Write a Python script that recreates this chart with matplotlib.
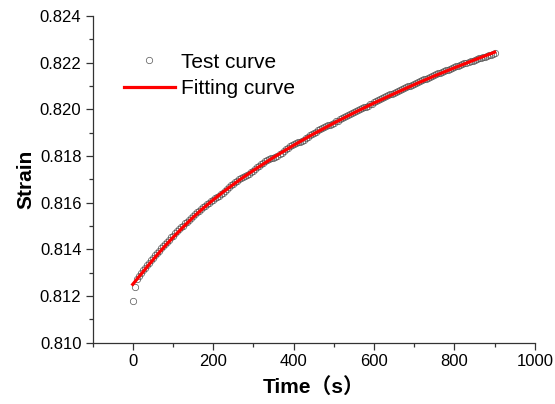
import matplotlib
matplotlib.use("Agg")
import matplotlib.pyplot as plt
from matplotlib.ticker import MultipleLocator, FormatStrFormatter

plt.rcParams['font.family'] = ['Liberation Sans', 'Noto Sans CJK SC', 'DejaVu Sans']

# measured creep data, one reading every 5 s
test_time = list(range(0, 901, 5))
test_strain = [
    0.81178, 0.81240, 0.81272, 0.81288, 0.81300, 0.81311, 0.81322, 0.81333, 0.81343, 0.81354,
    0.81365, 0.81376, 0.81384, 0.81395, 0.81405, 0.81413, 0.81423, 0.81433, 0.81441, 0.81451,
    0.81459, 0.81469, 0.81477, 0.81486, 0.81494, 0.81502, 0.81511, 0.81518, 0.81527, 0.81535,
    0.81542, 0.81551, 0.81558, 0.81566, 0.81572, 0.81580, 0.81586, 0.81594, 0.81600, 0.81607,
    0.81613, 0.81619, 0.81624, 0.81630, 0.81636, 0.81643, 0.81650, 0.81658, 0.81666, 0.81674,
    0.81681, 0.81688, 0.81695, 0.81700, 0.81705, 0.81710, 0.81714, 0.81719, 0.81724, 0.81730,
    0.81737, 0.81744, 0.81751, 0.81758, 0.81765, 0.81771, 0.81777, 0.81782, 0.81786, 0.81790,
    0.81793, 0.81797, 0.81802, 0.81808, 0.81815, 0.81822, 0.81829, 0.81836, 0.81841, 0.81846,
    0.81850, 0.81854, 0.81858, 0.81861, 0.81865, 0.81870, 0.81876, 0.81882, 0.81888, 0.81894,
    0.81900, 0.81905, 0.81910, 0.81915, 0.81919, 0.81923, 0.81927, 0.81931, 0.81935, 0.81939,
    0.81943, 0.81948, 0.81952, 0.81957, 0.81962, 0.81967, 0.81972, 0.81977, 0.81981, 0.81986,
    0.81990, 0.81994, 0.81997, 0.82001, 0.82004, 0.82008, 0.82012, 0.82016, 0.82021, 0.82025,
    0.82030, 0.82035, 0.82040, 0.82044, 0.82048, 0.82052, 0.82056, 0.82060, 0.82064, 0.82067,
    0.82070, 0.82074, 0.82078, 0.82082, 0.82086, 0.82090, 0.82094, 0.82098, 0.82102, 0.82106,
    0.82110, 0.82114, 0.82118, 0.82122, 0.82125, 0.82128, 0.82131, 0.82135, 0.82138, 0.82142,
    0.82146, 0.82150, 0.82154, 0.82157, 0.82161, 0.82164, 0.82167, 0.82170, 0.82173, 0.82177,
    0.82180, 0.82184, 0.82187, 0.82191, 0.82194, 0.82197, 0.82200, 0.82203, 0.82206, 0.82209,
    0.82212, 0.82215, 0.82218, 0.82221, 0.82223, 0.82226, 0.82229, 0.82232, 0.82235, 0.82238,
    0.82241,
]

# fitted curve
fit_time = [0, 20, 40, 60, 80, 100, 125, 150, 175, 200, 225, 250, 275, 300,
            350, 400, 450, 500, 550, 600, 650, 700, 750, 800, 850, 900]
fit_strain = [0.81250, 0.81292, 0.81334, 0.81375, 0.81414, 0.81451, 0.81495, 0.81537,
              0.81576, 0.81612, 0.81646, 0.81678, 0.81709, 0.81738, 0.81794, 0.81846,
              0.81895, 0.81941, 0.81985, 0.82027, 0.82067, 0.82106, 0.82143, 0.82178,
              0.82212, 0.82245]

fig = plt.figure(figsize=(5.55, 4.04), dpi=100)
ax = fig.add_axes([0.1667, 0.1517, 0.797, 0.8087])

ax.plot(test_time, test_strain, 'o', markersize=4.6, markerfacecolor='none',
        markeredgecolor='#555555', markeredgewidth=0.5, label='Test curve', zorder=2)
ax.plot(fit_time, fit_strain, '-', color='#ff0000', linewidth=2.3, label='Fitting curve',
        zorder=3)

ax.set_xlim(-100, 1000)
ax.set_ylim(0.810, 0.824)
ax.xaxis.set_major_locator(MultipleLocator(200))
ax.xaxis.set_minor_locator(MultipleLocator(100))
ax.yaxis.set_major_locator(MultipleLocator(0.002))
ax.yaxis.set_minor_locator(MultipleLocator(0.001))
ax.yaxis.set_major_formatter(FormatStrFormatter('%.3f'))

for s in ('top', 'right'):
    ax.spines[s].set_visible(False)
for s in ('left', 'bottom'):
    ax.spines[s].set_linewidth(0.9)
    ax.spines[s].set_color('#333333')

ax.tick_params(which='major', direction='out', length=5, width=0.9, labelsize=12,
               color='#333333', pad=3)
ax.tick_params(which='minor', direction='out', length=3, width=0.9, color='#333333')

ax.set_xlabel('Time（s）', fontsize=15, fontweight='bold', labelpad=6)
ax.set_ylabel('Strain', fontsize=15, fontweight='bold', labelpad=3)

ax.legend(loc='upper left', bbox_to_anchor=(0.071, 0.888), frameon=False, fontsize=15,
          handlelength=2.45, handletextpad=0.3, labelspacing=0.35, borderpad=0,
          borderaxespad=0)

plt.savefig('out.png', dpi=100)
plt.close()
